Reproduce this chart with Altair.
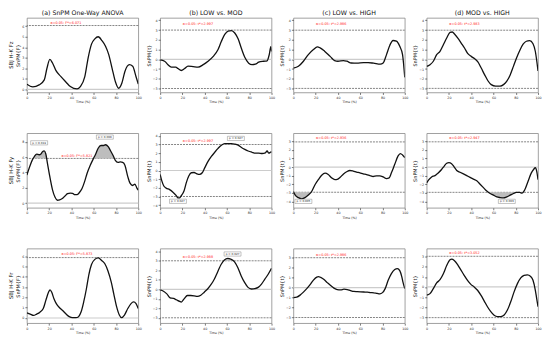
import altair as alt
import pandas as pd

FONT = "DejaVu Sans"
TITLES = ["(a) SnPM One-Way ANOVA", "(b) LOW vs. MOD", "(c) LOW vs. HIGH", "(d) MOD vs. HIGH"]
ROWS = ["SBJ H-K Fz", "SBJ H-K Fy", "SBJ H-K Fr"]
X_TICKS = [0, 20, 40, 60, 80, 100]

# ---------------- Row 1: Fz ----------------
FZ_ANOVA_T = [0, 5.3, 11, 15.6, 18, 20.6, 23, 26, 30.6, 35, 39, 45, 48, 52, 55, 58, 61, 64, 67.6, 70.6, 73.5, 76.5, 79.4, 82.4, 85.3, 88, 92, 95, 98, 100]
FZ_ANOVA_V = [0.48, 0.23, 0.42, 0.9, 2.0, 2.84, 2.5, 1.8, 1.2, 0.7, 0.26, 0.03, 0.26, 1.2, 3.0, 4.3, 4.8, 5.0, 4.6, 4.1, 3.3, 2.0, 0.74, 0.1, 0.6, 1.7, 2.35, 2.2, 1.2, 0.5]

FZ_LM_T = [0, 4, 7, 10, 14, 16, 19, 22, 25, 29.6, 34, 38.7, 43, 47.7, 52, 55, 58, 61, 64, 67, 70, 73, 76, 79.5, 82.5, 85.5, 88.5, 93, 96, 98, 99.4, 100]
FZ_LM_V = [-0.07, -0.2, -0.55, -0.8, -0.8, -0.95, -1.15, -0.95, -0.7, -0.75, -0.8, -0.55, -0.2, 0.3, 1.0, 1.85, 2.55, 2.9, 2.95, 2.7, 2.1, 1.1, 0.2, -0.4, -0.55, -0.5, -0.3, -0.2, -0.15, 0.5, 1.3, 0.8]

FZ_LH_T = [0, 4.5, 9, 13.4, 18, 21.5, 24, 28, 33, 37, 40, 45, 48, 52, 57, 63, 67, 72, 78, 80.6, 83.6, 86.6, 89.5, 92.5, 95.5, 98, 99, 100]
FZ_LH_V = [-0.9, -0.72, -0.2, 0.48, 1.0, 1.27, 1.17, 0.83, 0.3, -0.13, -0.2, -0.13, -0.2, -0.38, -0.4, -0.34, -0.34, -0.4, -0.5, -0.38, 0.48, 1.45, 1.93, 1.86, 1.33, 0.48, -0.55, -1.85]

FZ_MH_T = [0, 3, 6, 9, 12, 15, 18, 21, 23, 25, 28, 31, 34, 37, 40, 43, 46, 49, 52, 55, 58, 62, 66, 69, 72, 75, 78, 80.6, 83.6, 86.6, 89.5, 92.5, 95.5, 97.6, 100]
FZ_MH_V = [-0.72, -0.55, -0.2, 0.48, 0.82, 1.5, 2.18, 2.76, 2.8, 2.6, 2.18, 1.67, 1.16, 0.58, 0.3, 0.07, -0.27, -0.9, -1.57, -2.2, -2.6, -2.76, -2.75, -2.6, -2.25, -1.6, -0.7, 0.1, 0.9, 1.55, 1.85, 1.92, 1.6, 0.8, -1.2]

# ---------------- Row 2: Fy ----------------
FY_ANOVA_T = [0, 2.4, 4.7, 6.8, 8.8, 11, 12.6, 14, 15.6, 17, 18.5, 20.6, 23, 25.3, 27.4, 29.4, 31.8, 34, 36.5, 39, 41, 43, 45, 47, 49.4, 51.8, 54, 56.8, 59.7, 61.8, 64, 66.5, 68.8, 70.6, 73, 75, 77.4, 79.4, 81.8, 84, 86, 88, 90.6, 92.6, 95, 97, 98.8, 100]
FY_ANOVA_V = [3.66, 4.7, 5.57, 6.1, 6.38, 6.3, 6.4, 6.7, 6.8, 6.4, 5.15, 3.45, 1.74, 0.77, 0.38, 0.43, 0.6, 0.9, 1.23, 1.3, 1.28, 1.1, 1.1, 1.36, 1.87, 2.8, 3.87, 4.9, 5.79, 6.4, 7.15, 7.5, 7.5, 7.6, 7.35, 6.85, 6.2, 5.57, 5.3, 5.36, 5.3, 4.94, 3.45, 2.6, 2.3, 2.47, 1.96, 1.7]

FY_LM_T = [0, 1.5, 3.3, 5.4, 8.5, 11.5, 14.5, 16, 17.5, 19, 21.5, 23.5, 25.7, 28, 30.5, 33, 35.3, 37.8, 40, 43, 46, 49, 52, 55, 58, 61, 64, 67, 70, 73, 76, 79, 82.5, 85.5, 88.5, 91.5, 94.5, 96, 97.6, 99, 100]
FY_LM_V = [-0.45, -1.2, -1.78, -2.03, -2.2, -2.5, -2.9, -3.15, -3.15, -2.9, -2.33, -1.4, -0.64, -0.26, -0.23, -0.38, -0.45, -0.26, 0.3, 1.05, 1.62, 2.1, 2.55, 2.92, 3.1, 3.1, 3.1, 3.04, 2.92, 2.66, 2.44, 2.25, 2.1, 2.0, 2.0, 1.96, 2.03, 2.25, 2.0, 2.1, 2.18]

FY_LH_T = [0, 1.5, 4.5, 7.5, 10.4, 13.4, 16.4, 19.4, 22.4, 25.4, 28.4, 31.3, 34.3, 37.3, 39.4, 42, 45, 47.8, 50.7, 53.7, 56.7, 59.7, 62.7, 65.7, 68.7, 71.6, 74.6, 77.6, 80.6, 83.6, 86, 88, 91, 94, 96, 98, 100]
FY_LH_V = [-2.85, -3.25, -3.57, -3.7, -3.57, -3.25, -2.85, -2.06, -1.47, -0.95, -0.71, -0.87, -1.26, -1.47, -1.43, -1.19, -0.8, -0.55, -0.4, -0.47, -0.59, -0.67, -0.8, -0.87, -1.0, -1.1, -1.03, -1.03, -1.15, -1.34, -1.26, -0.67, 0.32, 1.3, 1.58, 1.42, 1.1]

FY_MH_T = [0, 2, 4.5, 7.5, 10.4, 13.4, 15.8, 18, 20, 22.4, 24.8, 27, 30, 33, 36, 39, 42, 45, 48, 51, 54, 57, 60, 63, 66, 69, 72, 75, 78, 80.6, 83.6, 85.7, 88, 91, 94, 96, 97.6, 98.8, 100]
FY_MH_V = [-1.86, -1.47, -1.15, -1.0, -0.68, -0.28, 0.12, 0.44, 0.52, 0.4, 0.0, -0.4, -0.6, -0.8, -1.0, -1.2, -1.4, -1.6, -2.0, -2.4, -2.8, -3.08, -3.28, -3.48, -3.56, -3.6, -3.48, -3.28, -3.08, -2.96, -2.96, -3.04, -2.68, -1.68, -0.68, -0.28, -0.08, -0.48, -1.47]

# ---------------- Row 3: Fr ----------------
FR_ANOVA_T = [0, 3, 5.9, 8.8, 11.7, 14.7, 17, 19.4, 20.8, 22.3, 24.3, 26.4, 29.3, 32.3, 35.2, 38, 41, 44, 46.4, 48.7, 51, 53.4, 55.7, 58, 61, 64, 67, 70, 72.8, 75.8, 78, 80.6, 83, 85, 87.6, 90.6, 93.5, 95.8, 98, 99.4, 100]
FR_ANOVA_V = [0.5, 0.38, 0.25, 0.38, 0.57, 0.92, 1.71, 2.5, 2.73, 2.5, 1.87, 1.4, 1.0, 0.7, 0.38, 0.13, 0.03, 0.03, 0.13, 0.6, 1.56, 2.82, 4.25, 5.2, 5.7, 5.84, 5.6, 5.27, 4.57, 3.46, 2.35, 1.08, 0.29, 0.03, 0.29, 0.92, 1.4, 1.56, 1.4, 1.08, 0.92]

FR_LM_T = [0, 3, 6, 9, 12, 14.5, 17.5, 19, 21.5, 24.5, 27.5, 30.5, 33.5, 36.5, 39.6, 42.6, 45.6, 48.6, 51.7, 54.7, 57.7, 60.7, 63.7, 66.8, 69.8, 72.8, 75.8, 78.9, 82, 85, 88, 91, 94, 97, 100]
FR_LM_V = [-0.07, -0.2, -0.48, -0.89, -0.96, -1.1, -1.27, -1.34, -1.0, -0.65, -0.65, -0.68, -0.75, -0.62, -0.3, 0.03, 0.48, 1.06, 1.85, 2.6, 3.08, 3.25, 3.15, 2.88, 2.26, 1.4, 0.72, 0.2, 0.03, 0.07, 0.2, 0.55, 1.06, 1.58, 2.2]

FR_LH_T = [0, 3, 6, 9, 12, 15, 18, 21, 22.4, 24.5, 27.5, 30.4, 33.4, 36.4, 39.4, 42.4, 45.4, 48.4, 51.3, 54.3, 57.3, 60.3, 63.3, 66.3, 69.3, 72.2, 75.2, 77.6, 80, 82.4, 85, 88, 91, 93.4, 95.5, 97.3, 98.5, 100]
FR_LH_V = [-1.0, -0.95, -0.75, -0.45, -0.1, 0.3, 0.75, 1.05, 1.1, 1.02, 0.8, 0.5, 0.2, -0.05, -0.2, -0.23, -0.16, -0.2, -0.3, -0.38, -0.4, -0.42, -0.44, -0.46, -0.5, -0.52, -0.58, -0.62, -0.5, -0.1, 0.7, 1.4, 1.8, 1.9, 1.7, 1.1, 0.5, -0.1]

FR_MH_T = [0, 3, 6, 9, 12, 15, 18, 21, 22.4, 24.8, 27.8, 30.7, 33.7, 36.7, 39.7, 42.7, 45.7, 48.7, 51.6, 54.6, 57.6, 60.6, 63.6, 66.6, 69.6, 72.5, 75.5, 78.5, 81.5, 84.5, 87.5, 90.4, 93.4, 95.5, 97.6, 98.8, 100]
FR_MH_V = [-0.82, -0.66, -0.16, 0.4, 0.72, 1.31, 2.13, 2.7, 2.77, 2.64, 2.23, 1.7, 1.15, 0.66, 0.26, 0.0, -0.33, -0.82, -1.38, -1.97, -2.46, -2.82, -2.95, -2.95, -2.79, -2.3, -1.48, -0.49, 0.33, 0.9, 1.15, 1.21, 1.05, 0.66, -0.33, -1.15, -1.97]

# thresholds and labels
THRESH = [6.071, 2.997, 2.986, 2.983,
          5.821, 2.997, 2.936, 2.947,
          5.873, 2.988, 2.986, 3.052]

PANELS = [
    dict(t=FZ_ANOVA_T, v=FZ_ANOVA_V, stat="F", ydom=[-0.3, 6.8], yticks=[0, 1, 2, 3, 4, 5, 6], lx=35, ly=6.35, boxes=[]),
    dict(t=FZ_LM_T, v=FZ_LM_V, stat="t", ydom=[-3.4, 4.25], yticks=[-3, -2, -1, 0, 1, 2, 3, 4], lx=34, ly=3.58, boxes=[]),
    dict(t=FZ_LH_T, v=FZ_LH_V, stat="t", ydom=[-3.4, 4.25], yticks=[-3, -2, -1, 0, 1, 2, 3, 4], lx=34, ly=3.62, boxes=[]),
    dict(t=FZ_MH_T, v=FZ_MH_V, stat="t", ydom=[-3.4, 4.25], yticks=[-3, -2, -1, 0, 1, 2, 3, 4], lx=34, ly=3.62, boxes=[]),

    dict(t=FY_ANOVA_T, v=FY_ANOVA_V, stat="F", ydom=[-0.6, 9.1], yticks=[0, 2, 4, 6, 8], lx=45, ly=6.2,
         boxes=[(11, 7.85, "p = 0.019"), (70, 8.6, "p = 0.006")]),
    dict(t=FY_LM_T, v=FY_LM_V, stat="t", ydom=[-4.3, 4.3], yticks=[-4, -3, -2, -1, 0, 1, 2, 3, 4], lx=34, ly=3.38,
         boxes=[(68, 3.7, "p = 0.027"), (16, -3.55, "p = 0.027")]),
    dict(t=FY_LH_T, v=FY_LH_V, stat="t", ydom=[-4.75, 3.95], yticks=[-4, -3, -2, -1, 0, 1, 2, 3], lx=34, ly=3.4,
         boxes=[(9, -4.0, "p = 0.005")]),
    dict(t=FY_MH_T, v=FY_MH_V, stat="t", ydom=[-4.75, 3.95], yticks=[-4, -3, -2, -1, 0, 1, 2, 3], lx=34, ly=3.4,
         boxes=[(72, -4.0, "p = 0.003")]),

    dict(t=FR_ANOVA_T, v=FR_ANOVA_V, stat="F", ydom=[-0.5, 6.75], yticks=[0, 1, 2, 3, 4, 5, 6], lx=45, ly=6.22, boxes=[]),
    dict(t=FR_LM_T, v=FR_LM_V, stat="t", ydom=[-3.55, 4.27], yticks=[-3, -2, -1, 0, 1, 2, 3, 4], lx=34, ly=3.38,
         boxes=[(65, 3.7, "p = 0.027")]),
    dict(t=FR_LH_T, v=FR_LH_V, stat="t", ydom=[-3.55, 3.9], yticks=[-3, -2, -1, 0, 1, 2, 3], lx=34, ly=3.3, boxes=[]),
    dict(t=FR_MH_T, v=FR_MH_V, stat="t", ydom=[-3.6, 3.82], yticks=[-3, -2, -1, 0, 1, 2, 3], lx=34, ly=3.4, boxes=[]),
]

W, H = 112, 75
BOX_PATH = "M-1,-0.25L1,-0.25L1,0.25L-1,0.25Z"


def make_panel(idx):
    p = PANELS[idx]
    r, c = divmod(idx, 4)
    thr = THRESH[idx]
    stat = p["stat"]
    df = pd.DataFrame({"t": p["t"], "v": p["v"]})
    xs = alt.Scale(domain=[0, 100], nice=False, zero=False)
    ys = alt.Scale(domain=p["ydom"], nice=False, zero=False)
    xax = alt.Axis(values=X_TICKS, format="d", title="Time (%)", labelFlush=False)
    yax = alt.Axis(values=p["yticks"], format="d", labelFlush=False,
                   title="SnPM{F}" if stat == "F" else "SnPM{t}")
    X = alt.X("t:Q", scale=xs, axis=xax)

    def Y(field):
        return alt.Y(field, type="quantitative", scale=ys, axis=yax)

    layers = []
    # zero reference
    layers.append(alt.Chart(pd.DataFrame({"v": [0.0]})).mark_rule(color="#cccccc", strokeWidth=1.2)
                  .encode(y=Y("v")))
    # thresholds
    thr_vals = [thr] if stat == "F" else [thr, -thr]
    layers.append(alt.Chart(pd.DataFrame({"v": thr_vals})).mark_rule(color="#777777", strokeWidth=0.9,
                                                                       strokeDash=[2, 1])
                  .encode(y=Y("v")))
    # suprathreshold shading
    base = alt.Chart(df)
    layers.append(base.transform_calculate(up=f"max(datum.v, {thr})", th=f"{thr}")
                  .mark_area(color="#bdbdbd", interpolate="monotone", clip=True)
                  .encode(x=X, y=Y("up"), y2="th:Q"))
    if stat == "t":
        layers.append(base.transform_calculate(lo=f"min(datum.v, {-thr})", th=f"{-thr}")
                      .mark_area(color="#bdbdbd", interpolate="monotone", clip=True)
                      .encode(x=X, y=Y("lo"), y2="th:Q"))
    # curve
    layers.append(base.mark_line(color="#111111", strokeWidth=1.3, interpolate="monotone", clip=True)
                  .encode(x=X, y=Y("v")))
    # critical threshold label
    lab = f"α=0.05: {stat}*={thr:.3f}"
    layers.append(alt.Chart(pd.DataFrame({"t": [p["lx"]], "v": [p["ly"]], "s": [lab]}))
                  .mark_text(color="#ff2020", fontSize=3.4, font=FONT)
                  .encode(x=X, y=Y("v"), text="s:N"))
    # cluster p-value boxes
    if p["boxes"]:
        bdf = pd.DataFrame({"t": [b[0] for b in p["boxes"]], "v": [b[1] for b in p["boxes"]],
                            "s": [b[2] for b in p["boxes"]]})
        layers.append(alt.Chart(bdf).mark_point(shape=BOX_PATH, size=290, fill="white", fillOpacity=1,
                                                stroke="#888888", strokeWidth=0.5, opacity=1)
                      .encode(x=X, y=Y("v")))
        layers.append(alt.Chart(bdf).mark_text(fontSize=2.8, font=FONT, color="#222222")
                      .encode(x=X, y=Y("v"), text="s:N"))
    # row label
    if c == 0:
        layers.append(alt.Chart(pd.DataFrame({"v": [0.0]}))
                      .mark_text(angle=270, fontSize=5.4, font=FONT, color="#111111")
                      .encode(x=alt.value(-16), y=alt.value(H / 2), text=alt.value(ROWS[r])))
    ch = alt.layer(*layers).properties(width=W, height=H)
    if r == 0:
        ch = ch.properties(title=TITLES[c])
    return ch


charts = [make_panel(i) for i in range(12)]

chart = (
    alt.concat(*charts, columns=4, spacing={"row": 41, "column": 22}, bounds="flush", padding=0)
    .configure_view(stroke="#888888", strokeWidth=0.8)
    .configure_axis(labelFont=FONT, titleFont=FONT, labelFontSize=3.3, titleFontWeight="normal",
                    tickSize=2, tickWidth=0.6, tickColor="#222222", domain=False, grid=False,
                    labelPadding=1, titlePadding=1, labelColor="#222222", titleColor="#222222",
                    labelOverlap=False)
    .configure_axisX(titleFontSize=3.2)
    .configure_axisY(titleFontSize=5)
    .configure_title(font=FONT, fontSize=6.3, fontWeight="normal", offset=2, color="#111111")
)

chart.save("out.html", embed_options={"renderer": "svg", "actions": False})
